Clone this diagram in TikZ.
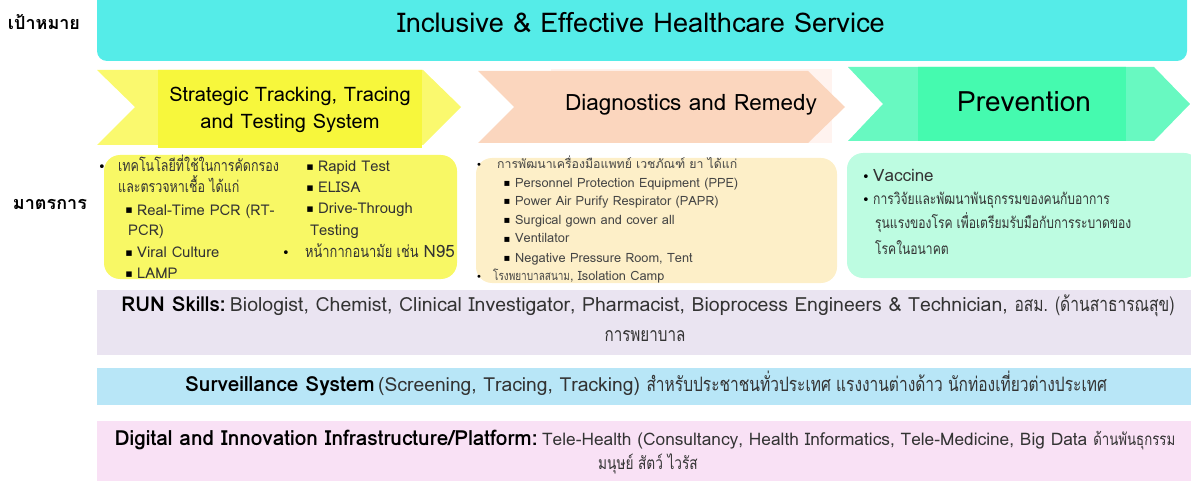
\documentclass[tikz,border=0pt]{standalone}
\usepackage{fontspec}
\setmainfont{Loma}[Script=Thai]
\newfontfamily\thf{Loma}[Script=Thai, FakeStretch=0.78]
\newfontfamily\symf{DejaVu Sans}
\newcommand\fsz[1]{\fontsize{#1}{#1}\selectfont}
\newcommand\thtext[1]{{\thf #1}}
\definecolor{cyanbar}{HTML}{55ECE8}
\definecolor{yelout}{HTML}{FAF96E}
\definecolor{yelin}{HTML}{F7F73C}
\definecolor{peachout}{HTML}{FBD6BE}
\definecolor{peachfaint}{HTML}{FFF3EF}
\definecolor{grnout}{HTML}{68F9C1}
\definecolor{grnin}{HTML}{45FAAF}
\definecolor{yelbox}{HTML}{F8F865}
\definecolor{peachbox}{HTML}{FDEFC8}
\definecolor{grnbox}{HTML}{BDFCE1}
\definecolor{runband}{HTML}{EAE4F1}
\definecolor{survband}{HTML}{B8E6F7}
\definecolor{digband}{HTML}{F9E1F5}
\definecolor{txtgray}{HTML}{333333}
\definecolor{txtgray2}{HTML}{454545}
\tikzset{
  lbl/.style={font=\fontsize{18}{20}\selectfont\bfseries, text=black, inner sep=0pt},
  chevtxt/.style={font=\fontsize{20}{27}\selectfont, text=black, align=center, inner sep=0pt},
  ytxt/.style={font=\fontsize{14.8}{18}\selectfont, text=txtgray, anchor=base west, inner sep=0pt},
  ythai/.style={font=\thf\fontsize{16}{18}\selectfont, text=txtgray, anchor=base west, inner sep=0pt},
  ptxt/.style={font=\fontsize{12.8}{15}\selectfont, text=txtgray2, anchor=base west, inner sep=0pt},
  pthai/.style={font=\fontsize{12.3}{13}\selectfont, text=txtgray2, anchor=base west, inner sep=0pt},
  gtxt/.style={font=\fontsize{17}{18}\selectfont, text=txtgray, anchor=base west, inner sep=0pt},
  gthai/.style={font=\thf\fontsize{15.5}{18}\selectfont, text=txtgray, anchor=base west, inner sep=0pt},
  bandtxt/.style={text=txtgray, anchor=base, inner sep=0pt},
  dot/.style={font=\symf\fontsize{13}{14}\selectfont, text=black, anchor=base, inner sep=0pt},
  sq/.style={font=\symf\fontsize{11}{12}\selectfont, text=black, anchor=base, inner sep=0pt},
  pdot/.style={font=\symf\fontsize{10}{10}\selectfont, text=black, anchor=base, inner sep=0pt},
}
\begin{document}
\begin{tikzpicture}[x=1pt,y=-1pt]
\useasboundingbox (0,0) rectangle (1191,481);
% labels
\node[lbl] (goal) at (44,22) {เป้าหมาย};
\node[lbl] (measure) at (50,204) {มาตรการ};
% top bar
\fill[cyanbar, rounded corners=10pt] (97,-12) rectangle (1187,61);
\node[font=\fontsize{27.2}{30}\selectfont, text=black, inner sep=0pt] (title) at (641,23) {Inclusive \& Effective Healthcare Service};
% yellow chevron
\fill[yelin] (158,70) rectangle (422,148);
\begin{scope}
\clip (97,70) -- (423,70) -- (461,107) -- (423,145) -- (97,145) -- (135,107) -- cycle;
\fill[yelout] (90,65) rectangle (470,150);
\fill[yelin] (158,65) rectangle (422,150);
\end{scope}
\node[chevtxt] (c1) at (290,110) {Strategic Tracking, Tracing\\and Testing System};
% peach chevron
\fill[peachfaint] (551,69) rectangle (832,143);
\fill[peachout] (478,71) -- (808,71) -- (845,107) -- (808,143) -- (478,143) -- (514,107) -- cycle;
\node[chevtxt, font=\fontsize{22.5}{26}\selectfont] (c2) at (691,105) {Diagnostics and Remedy};
% green chevron
\begin{scope}
\clip (848,67) -- (1154,67) -- (1190,104) -- (1154,141) -- (848,141) -- (883,104) -- cycle;
\fill[grnout] (840,60) rectangle (1191,150);
\fill[grnin] (918,60) rectangle (1126,150);
\end{scope}
\node[chevtxt, font=\fontsize{28}{30}\selectfont] (c3) at (1024,102) {Prevention};
% boxes
\fill[yelbox, rounded corners=16pt] (104,155) rectangle (457,279);
\fill[peachbox, rounded corners=16pt] (476,158) rectangle (837,283);
\fill[grnbox, rounded corners=16pt] (847,153) rectangle (1200,278);
% yellow box text
\node[dot] (yb1) at (102,172) {•};
\node[ythai] (y1) at (118,172) {เทคโนโลยีที่ใช้ในการคัดกรอง};
\node[ythai] (y2) at (118,193) {และตรวจหาเชื้อ ได้แก่};
\node[sq] (ys1) at (129,214) {▪};
\node[ytxt] (y3) at (137,215) {Real-Time PCR (RT-};
\node[ytxt] (y4) at (128,236) {PCR)};
\node[sq] (ys2) at (129,256) {▪};
\node[ytxt] (y5) at (137,257) {Viral Culture};
\node[sq] (ys3) at (129,277) {▪};
\node[ytxt] (y6) at (137,278) {LAMP};
\node[sq] (ys4) at (310,171) {▪};
\node[ytxt] (y7) at (318,172) {Rapid Test};
\node[sq] (ys5) at (310,192) {▪};
\node[ytxt] (y8) at (318,193) {ELISA};
\node[sq] (ys6) at (310,213) {▪};
\node[ytxt] (y9) at (318,214) {Drive-Through};
\node[ytxt] (y10) at (310,235) {Testing};
\node[dot] (yb2) at (286,258) {•};
\node[ytxt] (y11) at (305,258) {\thtext{\fsz{16.5}หน้ากากอนามัย เช่น} \fsz{17}N95};
% peach box text
\node[pdot] (pb1) at (479,169) {•};
\node[pthai] (p1) at (497,169) {การพัฒนาเครื่องมือแพทย์ เวชภัณฑ์ ยา ได้แก่};
\node[pdot] (ps1) at (507,187) {▪};
\node[ptxt] (p2) at (515,188) {Personnel Protection Equipment (PPE)};
\node[pdot] (ps2) at (507,205) {▪};
\node[ptxt] (p3) at (515,206) {Power Air Purify Respirator (PAPR)};
\node[pdot] (ps3) at (507,224) {▪};
\node[ptxt] (p4) at (515,225) {Surgical gown and cover all};
\node[pdot] (ps4) at (507,242) {▪};
\node[ptxt] (p5) at (515,243) {Ventilator};
\node[pdot] (ps5) at (507,261) {▪};
\node[ptxt] (p6) at (515,262) {Negative Pressure Room, Tent};
\node[pdot] (pb2) at (479,280) {•};
\node[ptxt] (p7) at (493,280) {\thtext{โรงพยาบาลสนาม}, Isolation Camp};
% green box text
\node[dot] (gb1) at (866,182) {•};
\node[gtxt] (g1) at (873,182) {Vaccine};
\node[dot] (gb2) at (866,205) {•};
\node[gthai] (g2) at (873,205) {การวิจัยและพัฒนาพันธุกรรมของคนกับอาการ};
\node[gthai] (g3) at (875,229) {รุนแรงของโรค เพื่อเตรียมรับมือกับการระบาดของ};
\node[gthai] (g4) at (875,254) {โรคในอนาคต};
% bands
\fill[runband] (97,290) rectangle (1191,355);
\node[bandtxt] (r1) at (648,311) {\textcolor{black}{\bfseries\fsz{20.5}RUN Skills:} \fsz{19.5}Biologist, Chemist, Clinical Investigator, Pharmacist, Bioprocess Engineers \& Technician, \thtext{\fsz{20}อสม. (ด้านสาธารณสุข)}};
\node[bandtxt] (r2) at (645,341) {\thtext{\fsz{19.5}การพยาบาล}};
\fill[survband] (97,368) rectangle (1191,405);
\node[bandtxt] (s1) at (646,391) {\textcolor{black}{\bfseries\fsz{20.8}Surveillance System} \fsz{19.3}(Screening, Tracing, Tracking) \thtext{\fsz{19.9}สำหรับประชาชนทั่วประเทศ แรงงานต่างด้าว นักท่องเที่ยวต่างประเทศ}};
\fill[digband] (97,421) rectangle (1191,481);
\node[bandtxt] (d1) at (645,445) {\textcolor{black}{\bfseries\fsz{20.8}Digital and Innovation Infrastructure/Platform:} \fsz{17.3}Tele-Health (Consultancy, Health Informatics, Tele-Medicine, Big Data \thtext{\fsz{17}ด้านพันธุกรรม}};
\node[bandtxt] (d2) at (648,469) {\thtext{\fsz{17.5}มนุษย์ สัตว์ ไวรัส}};
\end{tikzpicture}
\end{document}
